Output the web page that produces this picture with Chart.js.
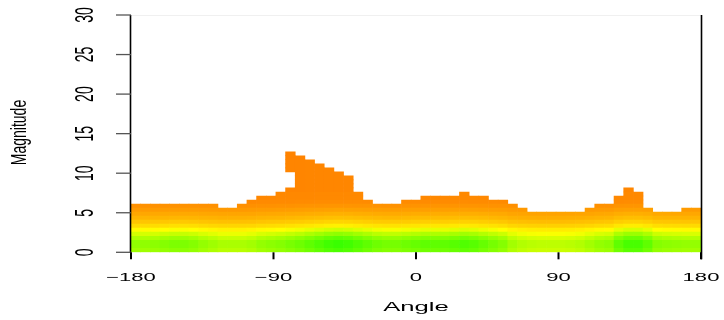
<!DOCTYPE html>
<html>
<head>
<meta charset="utf-8">
<script src="https://cdn.jsdelivr.net/npm/chart.js@4.4.1/dist/chart.umd.min.js"></script>
<style>
  html, body { margin: 0; padding: 0; background: #fff; }
  #wrap { width: 724px; height: 320px; }
</style>
</head>
<body>
<div id="wrap"><canvas id="heat" width="724" height="320"></canvas></div>
<script>
// angle bins (59 between -180 and 180), magnitude bins (59 between 0 and 30)
const angleMin = -180, angleMax = 180, angleBins = 59;
const magMax = 30, magBins = 59;
const xTicks = [-180, -90, 0, 90, 180];
const yTicks = [0, 5, 10, 15, 20, 25, 30];

// number of filled magnitude cells per angle bin
const colRows = [12,12,12,12,12,12,12,12,12,11,11,12,13,14,14,15,25,24,23,22,21,20,19,15,13,
                 12,12,12,13,13,14,14,14,14,15,14,14,13,13,12,11,10,10,10,10,10,10,11,12,12,
                 14,16,15,11,10,10,10,11,11];
// the spike near -80 has empty cells under it
const holeCol = 16;
const holeRows = [16, 17, 18, 19];

// typical colour level by magnitude row (0 = orange, 0.5 = yellow, 1 = green)
const rowLevel = [0.71,0.74,0.74,0.68,0.6,0.5,0.37,0.28,0.21,0.16,0.11,0.07,0.04,0.03,0.03,
                  0.02,0.02,0.02,0.02,0.02,0.02,0.02,0.02,0.01,0.01];
// how much greener each angle bin is
const colBoost = [0.97,0.97,0.98,1.0,1.02,1.02,1.0,0.96,0.93,0.9,0.9,0.9,0.92,0.96,0.98,1.0,
                  1.03,1.06,1.1,1.14,1.18,1.2,1.18,1.14,1.1,1.06,1.04,1.04,1.06,1.08,1.1,1.1,
                  1.1,1.12,1.14,1.12,1.08,1.04,1.0,0.92,0.88,0.86,0.85,0.85,0.85,0.86,0.88,0.92,
                  0.96,0.98,1.1,1.16,1.16,1.1,1.0,0.98,0.97,0.96,0.96];

function rampColor(v) {
  v = Math.max(0, Math.min(1, v));
  let r, g;
  if (v < 0.5) { r = 255; g = 128 + 127 * v / 0.5; }
  else { r = 255 * (1 - (v - 0.5) / 0.5); g = 255; }
  return `rgb(${Math.round(r)},${Math.round(g)},0)`;
}

function cellColor(ctx) {
  if (!ctx.raw) return '#ff8000';
  return rampColor(rowLevel[ctx.raw.row] * colBoost[ctx.raw.col]);
}

const binW = (angleMax - angleMin) / angleBins;
const rowH = magMax / magBins;
const nRows = Math.max(...colRows);
const datasets = [];
for (let j = 0; j < nRows; j++) {
  const pts = [];
  for (let i = 0; i < angleBins; i++) {
    if (j >= colRows[i]) continue;
    if (i === holeCol && holeRows.includes(j)) continue;
    pts.push({ x: angleMin + binW * (i + 0.5), y: [j * rowH, (j + 1) * rowH], col: i, row: j });
  }
  datasets.push({
    data: pts,
    backgroundColor: cellColor,
    borderWidth: 0,
    grouped: false,
    barPercentage: 1,
    categoryPercentage: 1
  });
}

const FONT = "'Liberation Sans', Arial, sans-serif";

function lineSeg(ctx, x1, y1, x2, y2) {
  ctx.beginPath(); ctx.moveTo(x1, y1); ctx.lineTo(x2, y2); ctx.stroke();
}

// R-like axes with horizontally stretched text
const rAxes = {
  id: 'rAxes',
  afterDraw(chart) {
    const { ctx, chartArea: a, scales: { x, y } } = chart;
    ctx.save();
    ctx.strokeStyle = '#f0f0f0'; ctx.lineWidth = 1;
    lineSeg(ctx, a.left, a.top + 0.5, a.right, a.top + 0.5);

    ctx.strokeStyle = '#000'; ctx.lineWidth = 1.6;
    lineSeg(ctx, a.left - 0.5, y.getPixelForValue(30), a.left - 0.5, y.getPixelForValue(0));
    lineSeg(ctx, a.right + 0.5, a.top, a.right + 0.5, a.bottom + 7);

    ctx.strokeStyle = '#555'; ctx.lineWidth = 1.3;
    yTicks.forEach(v => {
      const py = y.getPixelForValue(v);
      lineSeg(ctx, a.left - 15, py, a.left, py);
    });
    ctx.strokeStyle = '#000'; ctx.lineWidth = 2;
    xTicks.forEach(v => {
      const px = x.getPixelForValue(v);
      lineSeg(ctx, px, a.bottom, px, a.bottom + 7);
    });

    ctx.fillStyle = '#000';
    ctx.textAlign = 'center';
    ctx.textBaseline = 'alphabetic';
    // x tick labels
    ctx.font = `11.6px ${FONT}`;
    xTicks.forEach(v => {
      const px = x.getPixelForValue(v);
      ctx.save(); ctx.translate(px, 281); ctx.scale(1.9, 1);
      ctx.fillText(String(v).replace('-', '\u2212'), 0, 0);
      ctx.restore();
    });
    // y tick labels (rotated)
    ctx.font = `14px ${FONT}`;
    yTicks.forEach(v => {
      const py = y.getPixelForValue(v);
      ctx.save(); ctx.translate(92.7, py); ctx.rotate(-Math.PI / 2); ctx.scale(1, 1.87);
      ctx.fillText(String(v), 0, 0);
      ctx.restore();
    });
    // axis titles
    ctx.font = `13.5px ${FONT}`;
    ctx.save(); ctx.translate((a.left + a.right) / 2, 311); ctx.scale(1.9, 1);
    ctx.fillText('Angle', 0, 0);
    ctx.restore();
    ctx.font = `14px ${FONT}`;
    ctx.save(); ctx.translate(25.5, 132.5); ctx.rotate(-Math.PI / 2); ctx.scale(1, 1.6);
    ctx.fillText('Magnitude', 0, 0);
    ctx.restore();
    ctx.restore();
  }
};

new Chart(document.getElementById('heat'), {
  type: 'bar',
  data: { datasets },
  options: {
    responsive: false,
    animation: false,
    devicePixelRatio: 1,
    layout: { padding: { left: 131, right: 23, top: 15, bottom: 67.7 } },
    plugins: { legend: { display: false }, tooltip: { enabled: false } },
    scales: {
      x: { type: 'linear', offset: false, min: angleMin, max: angleMax, display: false, ticks: { stepSize: 90 } },
      y: { type: 'linear', min: 0, max: magMax, display: false, ticks: { stepSize: 5 } }
    }
  },
  plugins: [rAxes]
});
</script>
</body>
</html>
